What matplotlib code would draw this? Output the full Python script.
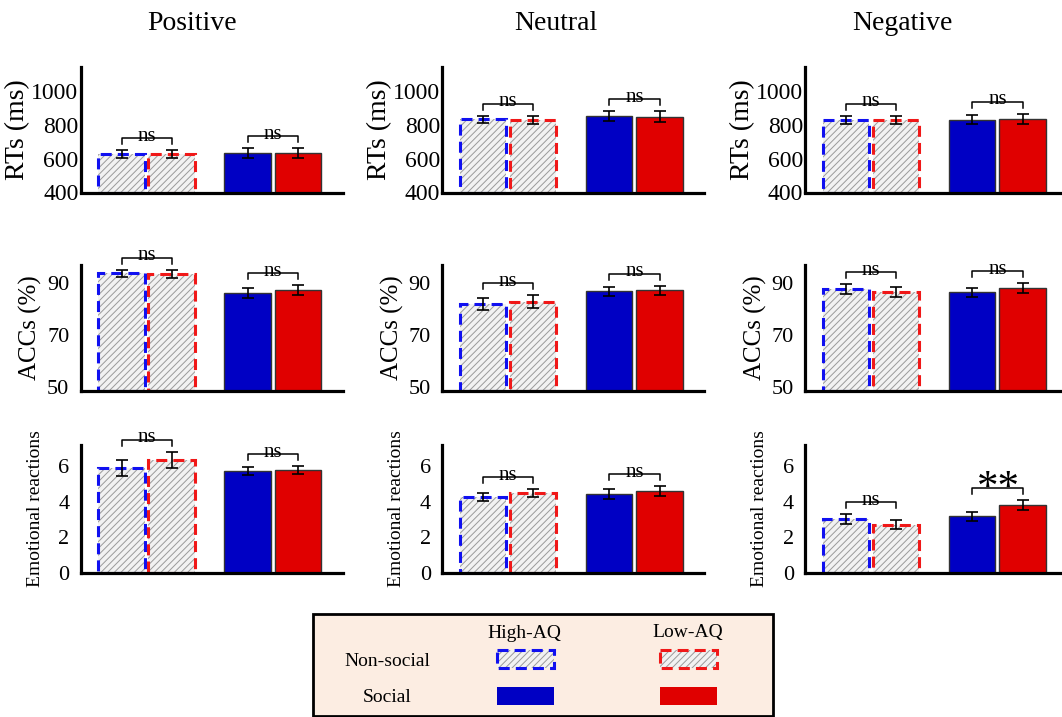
import numpy as np
import matplotlib
matplotlib.use('Agg')
import matplotlib.pyplot as plt
from matplotlib.patches import Rectangle

plt.rcParams['font.family'] = ['Liberation Serif', 'DejaVu Serif']
plt.rcParams['hatch.linewidth'] = 0.7

# ---- data ----
valences = ['Positive', 'Neutral', 'Negative']
groups = ['Non-social High-AQ', 'Non-social Low-AQ', 'Social High-AQ', 'Social Low-AQ']

rt_mean = [[628, 625, 634, 634], [832, 828, 852, 847], [829, 825, 830, 833]]
rt_err = [[22, 23, 28, 28], [22, 23, 29, 31], [24, 24, 29, 32]]

acc_mean = [[93.5, 93.2, 86.0, 87.0], [81.8, 82.6, 86.6, 87.0], [87.4, 86.3, 86.3, 88.0]]
acc_err = [[1.4, 1.5, 1.9, 1.9], [2.4, 2.5, 1.8, 1.8], [1.9, 1.9, 1.7, 1.9]]

emo_mean = [[5.90, 6.37, 5.74, 5.78], [4.26, 4.48, 4.43, 4.60], [3.02, 2.71, 3.17, 3.82]]
emo_err = [[0.43, 0.46, 0.22, 0.22], [0.23, 0.24, 0.30, 0.30], [0.28, 0.28, 0.26, 0.28]]

# significance for (non-social pair, social pair)
sig = [
    [['ns', 'ns'], ['ns', 'ns'], ['ns', 'ns']],
    [['ns', 'ns'], ['ns', 'ns'], ['ns', 'ns']],
    [['ns', 'ns'], ['ns', 'ns'], ['ns', '**']],
]

measures = ['RTs (ms)', 'ACCs (%)', 'Emotional reactions']
means = [rt_mean, acc_mean, emo_mean]
errs = [rt_err, acc_err, emo_err]
yticks = [[400, 600, 800, 1000], [50, 70, 90], [0, 2, 4, 6]]

# ---- styling ----
W, H = 1062, 717
blue_ns, red_ns = '#1010f0', '#f01818'
blue_s, red_s = '#0000c4', '#e00000'
ylims = [(400, 1140), (48.6, 96.7), (0, 7.2)]
tick_fs = [17, 16, 16]
tick_pad = [1.5, 8, 8]
label_fs = [20, 18, 14]
label_right = [-50, -38, -37]  # px from spine to right edge of ylabel
row_top = [67, 265, 445]
row_bot = [192.5, 390.7, 572.5]
col_left = [80.5, 442, 805]
ax_w = 262

xpos = np.array([0.87, 1.93, 3.54, 4.61])
bw = 0.99

fig = plt.figure(figsize=(W / 100, H / 100), dpi=100)

for r in range(3):
    for c in range(3):
        ax = fig.add_axes([col_left[c] / W, 1 - row_bot[r] / H,
                           ax_w / W, (row_bot[r] - row_top[r]) / H])
        ymin, ymax = ylims[r]
        m = np.array(means[r][c])
        e = np.array(errs[r][c])

        # non-social: hatched grey with dashed coloured outline
        for i, col in zip([0, 1], [blue_ns, red_ns]):
            ax.bar(xpos[i], m[i] - ymin, bottom=ymin, width=bw, color='#f2f2f2',
                   edgecolor='#9a9a9a', hatch='/////', linewidth=0, zorder=1)
            ax.bar(xpos[i], m[i] - ymin, bottom=ymin, width=bw, facecolor='none',
                   edgecolor=col, linewidth=2.2, linestyle=(0, (3.6, 2.0)), zorder=2)
        # social: solid bars
        for i, col in zip([2, 3], [blue_s, red_s]):
            ax.bar(xpos[i], m[i] - ymin, bottom=ymin, width=bw, color=col,
                   edgecolor='#333333', linewidth=1.0, zorder=2)

        ax.errorbar(xpos, m, yerr=e, fmt='none', ecolor='black', elinewidth=1.2,
                    capsize=4, capthick=1.2, zorder=3)

        ax.set_xlim(0, 5.55)
        ax.set_ylim(ymin, ymax)
        ax.set_yticks(yticks[r])
        ax.set_xticks([])
        ax.tick_params(axis='y', length=0, pad=tick_pad[r], labelsize=tick_fs[r])
        for s in ['top', 'right']:
            ax.spines[s].set_visible(False)
        for s in ['left', 'bottom']:
            ax.spines[s].set_linewidth(2.3)
            ax.spines[s].set_zorder(4)

        ax.set_ylabel(measures[r], fontsize=label_fs[r])
        ax.yaxis.set_label_coords(label_right[r] / ax_w, 0.5)

        # brackets
        ppu = (row_bot[r] - row_top[r]) / (ymax - ymin)
        for k, (i, j) in enumerate([(0, 1), (2, 3)]):
            top = max(m[i] + e[i], m[j] + e[j])
            leg = top + 6 / ppu
            yb = top + 12 / ppu
            ax.plot([xpos[i], xpos[i], xpos[j], xpos[j]], [leg, yb, yb, leg],
                    color='black', lw=1.1, zorder=3, clip_on=False)
            lab = sig[r][c][k]
            if lab == 'ns':
                ax.annotate(lab, xy=((xpos[i] + xpos[j]) / 2, yb), xytext=(0, -2),
                            textcoords='offset points', ha='center', va='baseline',
                            fontsize=15, annotation_clip=False)
            else:
                ax.annotate(lab, xy=((xpos[i] + xpos[j]) / 2, yb), xytext=(1, -8),
                            textcoords='offset points', ha='center', va='baseline',
                            fontsize=31, annotation_clip=False)

# column titles
title_x = [192, 556, 902]
for c in range(3):
    fig.text(title_x[c] / W, 1 - 24 / H, valences[c], ha='center', va='center', fontsize=20)

# ---- legend box ----
lg = fig.add_axes([0, 0, 1, 1])
lg.set_xlim(0, W)
lg.set_ylim(H, 0)
lg.axis('off')
lg.set_zorder(-1)
lg.add_patch(Rectangle((313, 614), 460, 102, facecolor='#fcede2', edgecolor='black', lw=2.0))
lg.text(524, 633, 'High-AQ', ha='center', va='center', fontsize=14)
lg.text(688, 633, 'Low-AQ', ha='center', va='center', fontsize=14)
lg.text(387, 661, 'Non-social', ha='center', va='center', fontsize=14)
lg.text(387, 697, 'Social', ha='center', va='center', fontsize=14)
for x0, col in [(497, blue_ns), (660, red_ns)]:
    lg.add_patch(Rectangle((x0, 650), 57, 18, facecolor='#f2f2f2', edgecolor='#9a9a9a',
                           hatch='/////', lw=0))
    lg.add_patch(Rectangle((x0, 650), 57, 18, facecolor='none', edgecolor=col, lw=2.2,
                           linestyle=(0, (3.6, 2.0))))
for x0, col in [(497, blue_s), (660, red_s)]:
    lg.add_patch(Rectangle((x0, 687), 57, 18, facecolor=col, edgecolor='none'))

fig.savefig('out.png', dpi=100)
